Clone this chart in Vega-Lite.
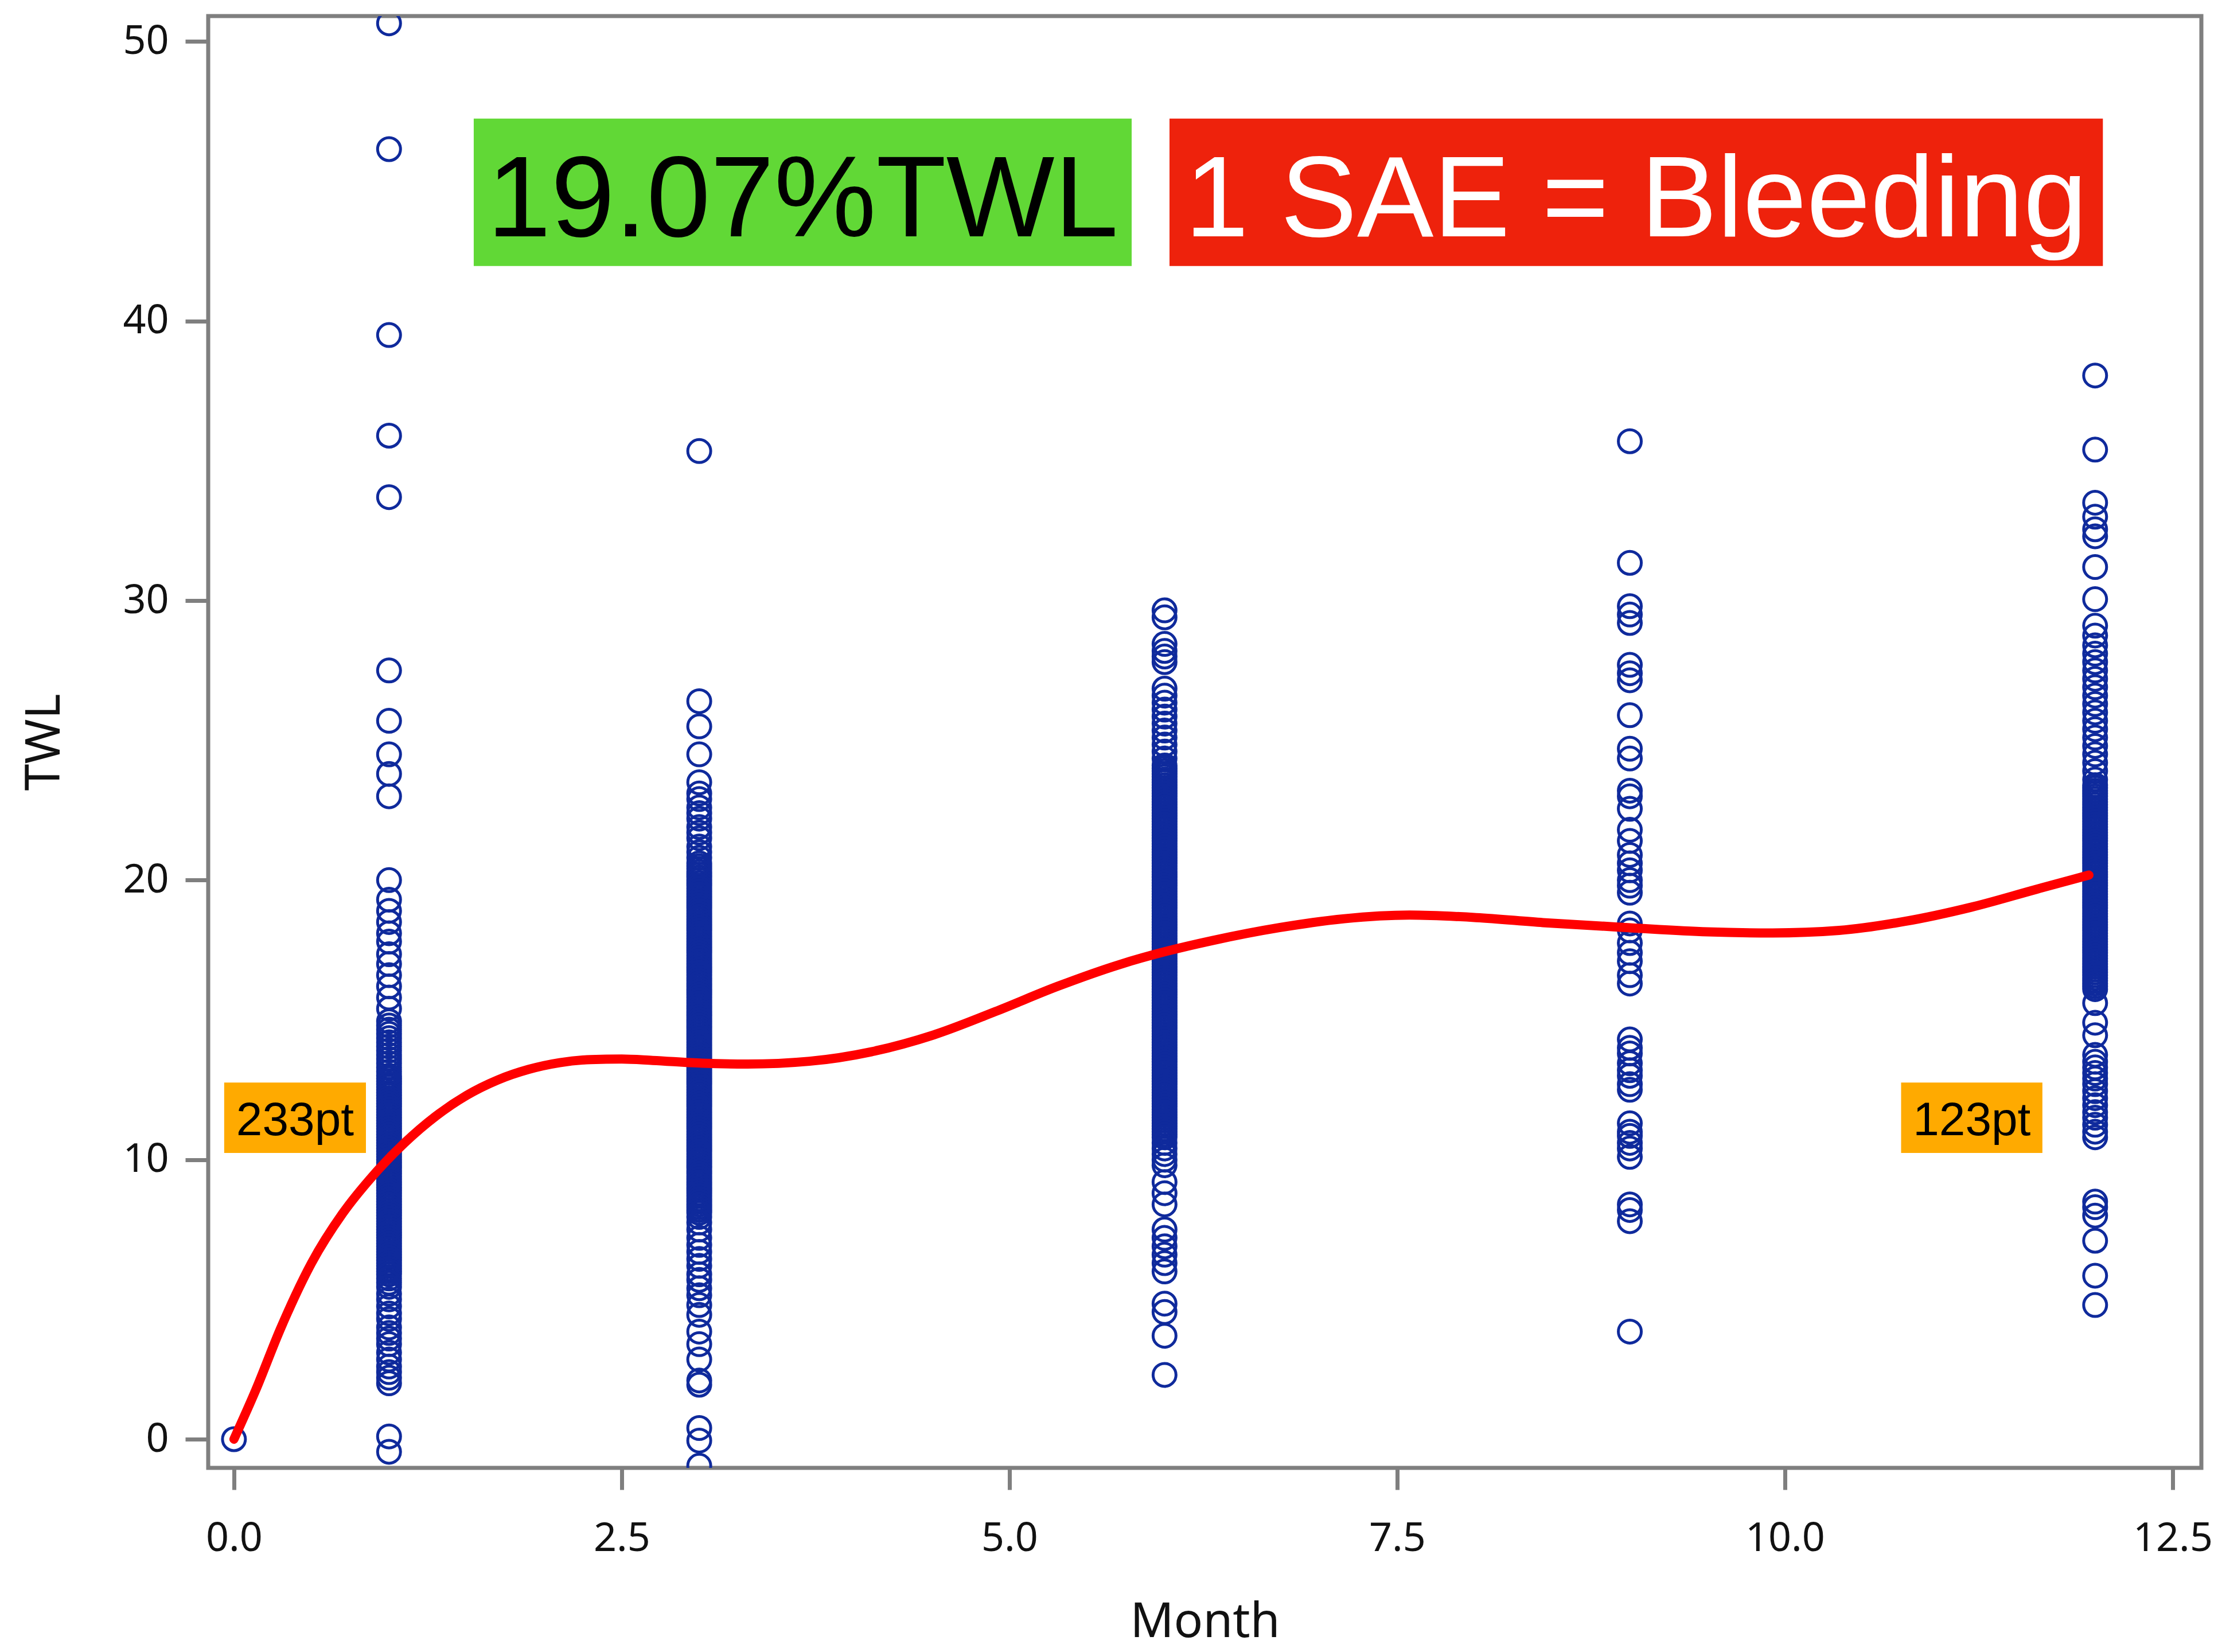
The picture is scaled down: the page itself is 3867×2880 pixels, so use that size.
{
"$schema": "https://vega.github.io/schema/vega-lite/v6.json",
"width": 3475,
"height": 2531,
"autosize": {"type": "none"},
"padding": {"left": 363, "top": 28, "right": 29, "bottom": 321},
"background": "white",
"config": {
  "view": {"stroke": "#7f7f7f", "strokeWidth": 7},
  "axis": {"grid": false, "domain": false, "tickColor": "#7f7f7f", "tickWidth": 7, "labelFont": "Noto Sans", "labelColor": "#111111", "titleFont": "Noto Sans", "titleColor": "#111111", "titleFontWeight": "normal", "labelFlush": false, "labelOverlap": false}
},
"datasets": {
  "pts": [
{"Month":0,"TWL":0},
{"Month":1,"TWL":50.65},{"Month":1,"TWL":46.15},{"Month":1,"TWL":39.5},{"Month":1,"TWL":35.9},{"Month":1,"TWL":33.7},{"Month":1,"TWL":27.5},{"Month":1,"TWL":25.7},{"Month":1,"TWL":24.5},{"Month":1,"TWL":23.8},{"Month":1,"TWL":23.0},{"Month":1,"TWL":20.0},
{"Month":1,"TWL":19.3},{"Month":1,"TWL":18.9},{"Month":1,"TWL":18.5},{"Month":1,"TWL":18.1},{"Month":1,"TWL":17.8},{"Month":1,"TWL":17.35},{"Month":1,"TWL":17.0},{"Month":1,"TWL":16.6},{"Month":1,"TWL":16.2},{"Month":1,"TWL":15.8},{"Month":1,"TWL":15.4},{"Month":1,"TWL":14.95},
{"Month":1,"TWL":14.8},{"Month":1,"TWL":14.65},{"Month":1,"TWL":14.5},{"Month":1,"TWL":14.35},{"Month":1,"TWL":14.2},{"Month":1,"TWL":14.05},{"Month":1,"TWL":13.9},{"Month":1,"TWL":13.75},{"Month":1,"TWL":13.6},{"Month":1,"TWL":13.45},{"Month":1,"TWL":13.3},{"Month":1,"TWL":13.15},
{"Month":1,"TWL":13.0},{"Month":1,"TWL":12.9},{"Month":1,"TWL":12.8},{"Month":1,"TWL":12.7},{"Month":1,"TWL":12.6},{"Month":1,"TWL":12.5},{"Month":1,"TWL":12.4},{"Month":1,"TWL":12.3},{"Month":1,"TWL":12.2},{"Month":1,"TWL":12.1},{"Month":1,"TWL":12.0},{"Month":1,"TWL":11.9},{"Month":1,"TWL":11.8},{"Month":1,"TWL":11.7},{"Month":1,"TWL":11.6},{"Month":1,"TWL":11.5},{"Month":1,"TWL":11.4},{"Month":1,"TWL":11.3},{"Month":1,"TWL":11.2},{"Month":1,"TWL":11.1},{"Month":1,"TWL":11.0},{"Month":1,"TWL":10.9},{"Month":1,"TWL":10.8},{"Month":1,"TWL":10.7},{"Month":1,"TWL":10.6},{"Month":1,"TWL":10.5},{"Month":1,"TWL":10.4},{"Month":1,"TWL":10.3},{"Month":1,"TWL":10.2},{"Month":1,"TWL":10.1},{"Month":1,"TWL":10.0},{"Month":1,"TWL":9.9},{"Month":1,"TWL":9.8},{"Month":1,"TWL":9.7},{"Month":1,"TWL":9.6},{"Month":1,"TWL":9.5},{"Month":1,"TWL":9.4},{"Month":1,"TWL":9.3},{"Month":1,"TWL":9.2},{"Month":1,"TWL":9.1},{"Month":1,"TWL":9.0},{"Month":1,"TWL":8.9},{"Month":1,"TWL":8.8},{"Month":1,"TWL":8.7},{"Month":1,"TWL":8.6},{"Month":1,"TWL":8.5},{"Month":1,"TWL":8.4},{"Month":1,"TWL":8.3},{"Month":1,"TWL":8.2},{"Month":1,"TWL":8.1},{"Month":1,"TWL":8.0},{"Month":1,"TWL":7.9},{"Month":1,"TWL":7.8},{"Month":1,"TWL":7.7},{"Month":1,"TWL":7.6},{"Month":1,"TWL":7.5},{"Month":1,"TWL":7.4},{"Month":1,"TWL":7.3},{"Month":1,"TWL":7.2},{"Month":1,"TWL":7.1},{"Month":1,"TWL":7.0},{"Month":1,"TWL":6.9},{"Month":1,"TWL":6.8},{"Month":1,"TWL":6.7},{"Month":1,"TWL":6.6},{"Month":1,"TWL":6.5},{"Month":1,"TWL":6.4},{"Month":1,"TWL":6.3},{"Month":1,"TWL":6.2},{"Month":1,"TWL":6.1},{"Month":1,"TWL":6.0},{"Month":1,"TWL":5.9},
{"Month":1,"TWL":5.75},{"Month":1,"TWL":5.6},{"Month":1,"TWL":5.45},{"Month":1,"TWL":5.2},{"Month":1,"TWL":5.0},{"Month":1,"TWL":4.75},{"Month":1,"TWL":4.5},{"Month":1,"TWL":4.3},{"Month":1,"TWL":4.0},{"Month":1,"TWL":3.8},{"Month":1,"TWL":3.6},{"Month":1,"TWL":3.4},{"Month":1,"TWL":3.1},{"Month":1,"TWL":2.85},{"Month":1,"TWL":2.6},{"Month":1,"TWL":2.4},{"Month":1,"TWL":2.2},{"Month":1,"TWL":2.0},{"Month":1,"TWL":0.1},{"Month":1,"TWL":-0.45},
{"Month":3,"TWL":35.35},{"Month":3,"TWL":26.4},{"Month":3,"TWL":25.5},{"Month":3,"TWL":24.5},{"Month":3,"TWL":23.5},{"Month":3,"TWL":23.1},{"Month":3,"TWL":22.9},{"Month":3,"TWL":22.6},{"Month":3,"TWL":22.4},{"Month":3,"TWL":22.2},{"Month":3,"TWL":21.9},{"Month":3,"TWL":21.7},{"Month":3,"TWL":21.5},{"Month":3,"TWL":21.2},{"Month":3,"TWL":21.0},{"Month":3,"TWL":20.8},
{"Month":3,"TWL":20.6},{"Month":3,"TWL":20.5},{"Month":3,"TWL":20.4},{"Month":3,"TWL":20.3},{"Month":3,"TWL":20.2},{"Month":3,"TWL":20.1},{"Month":3,"TWL":20.0},{"Month":3,"TWL":19.9},{"Month":3,"TWL":19.8},{"Month":3,"TWL":19.7},{"Month":3,"TWL":19.6},{"Month":3,"TWL":19.5},{"Month":3,"TWL":19.4},{"Month":3,"TWL":19.3},{"Month":3,"TWL":19.2},{"Month":3,"TWL":19.1},{"Month":3,"TWL":19.0},{"Month":3,"TWL":18.9},{"Month":3,"TWL":18.8},{"Month":3,"TWL":18.7},{"Month":3,"TWL":18.6},{"Month":3,"TWL":18.5},{"Month":3,"TWL":18.4},{"Month":3,"TWL":18.3},{"Month":3,"TWL":18.2},{"Month":3,"TWL":18.1},{"Month":3,"TWL":18.0},{"Month":3,"TWL":17.9},{"Month":3,"TWL":17.8},{"Month":3,"TWL":17.7},{"Month":3,"TWL":17.6},{"Month":3,"TWL":17.5},{"Month":3,"TWL":17.4},{"Month":3,"TWL":17.3},{"Month":3,"TWL":17.2},{"Month":3,"TWL":17.1},{"Month":3,"TWL":17.0},{"Month":3,"TWL":16.9},{"Month":3,"TWL":16.8},{"Month":3,"TWL":16.7},{"Month":3,"TWL":16.6},{"Month":3,"TWL":16.5},{"Month":3,"TWL":16.4},{"Month":3,"TWL":16.3},{"Month":3,"TWL":16.2},{"Month":3,"TWL":16.1},{"Month":3,"TWL":16.0},{"Month":3,"TWL":15.9},{"Month":3,"TWL":15.8},{"Month":3,"TWL":15.7},{"Month":3,"TWL":15.6},{"Month":3,"TWL":15.5},{"Month":3,"TWL":15.4},{"Month":3,"TWL":15.3},{"Month":3,"TWL":15.2},{"Month":3,"TWL":15.1},{"Month":3,"TWL":15.0},{"Month":3,"TWL":14.9},{"Month":3,"TWL":14.8},{"Month":3,"TWL":14.7},{"Month":3,"TWL":14.6},{"Month":3,"TWL":14.5},{"Month":3,"TWL":14.4},{"Month":3,"TWL":14.3},{"Month":3,"TWL":14.2},{"Month":3,"TWL":14.1},{"Month":3,"TWL":14.0},{"Month":3,"TWL":13.9},{"Month":3,"TWL":13.8},{"Month":3,"TWL":13.7},{"Month":3,"TWL":13.6},{"Month":3,"TWL":13.5},{"Month":3,"TWL":13.4},{"Month":3,"TWL":13.3},{"Month":3,"TWL":13.2},{"Month":3,"TWL":13.1},{"Month":3,"TWL":13.0},{"Month":3,"TWL":12.9},{"Month":3,"TWL":12.8},{"Month":3,"TWL":12.7},{"Month":3,"TWL":12.6},{"Month":3,"TWL":12.5},{"Month":3,"TWL":12.4},{"Month":3,"TWL":12.3},{"Month":3,"TWL":12.2},{"Month":3,"TWL":12.1},{"Month":3,"TWL":12.0},{"Month":3,"TWL":11.9},{"Month":3,"TWL":11.8},{"Month":3,"TWL":11.7},{"Month":3,"TWL":11.6},{"Month":3,"TWL":11.5},{"Month":3,"TWL":11.4},{"Month":3,"TWL":11.3},{"Month":3,"TWL":11.2},{"Month":3,"TWL":11.1},{"Month":3,"TWL":11.0},{"Month":3,"TWL":10.9},{"Month":3,"TWL":10.8},{"Month":3,"TWL":10.7},{"Month":3,"TWL":10.6},{"Month":3,"TWL":10.5},{"Month":3,"TWL":10.4},{"Month":3,"TWL":10.3},{"Month":3,"TWL":10.2},{"Month":3,"TWL":10.1},{"Month":3,"TWL":10.0},{"Month":3,"TWL":9.9},{"Month":3,"TWL":9.8},{"Month":3,"TWL":9.7},{"Month":3,"TWL":9.6},{"Month":3,"TWL":9.5},{"Month":3,"TWL":9.4},{"Month":3,"TWL":9.3},{"Month":3,"TWL":9.2},{"Month":3,"TWL":9.1},{"Month":3,"TWL":9.0},{"Month":3,"TWL":8.9},{"Month":3,"TWL":8.8},{"Month":3,"TWL":8.7},{"Month":3,"TWL":8.6},{"Month":3,"TWL":8.5},{"Month":3,"TWL":8.4},{"Month":3,"TWL":8.3},{"Month":3,"TWL":8.2},{"Month":3,"TWL":8.1},
{"Month":3,"TWL":7.95},{"Month":3,"TWL":7.75},{"Month":3,"TWL":7.5},{"Month":3,"TWL":7.2},{"Month":3,"TWL":6.95},{"Month":3,"TWL":6.7},{"Month":3,"TWL":6.45},{"Month":3,"TWL":6.2},{"Month":3,"TWL":5.9},{"Month":3,"TWL":5.7},{"Month":3,"TWL":5.4},{"Month":3,"TWL":5.15},{"Month":3,"TWL":4.8},{"Month":3,"TWL":4.45},{"Month":3,"TWL":3.85},{"Month":3,"TWL":3.4},{"Month":3,"TWL":2.85},{"Month":3,"TWL":2.1},{"Month":3,"TWL":1.95},{"Month":3,"TWL":0.4},{"Month":3,"TWL":-0.05},{"Month":3,"TWL":-0.95},
{"Month":6,"TWL":29.65},{"Month":6,"TWL":29.4},{"Month":6,"TWL":28.45},{"Month":6,"TWL":28.2},{"Month":6,"TWL":28.0},{"Month":6,"TWL":27.8},{"Month":6,"TWL":26.85},{"Month":6,"TWL":26.6},{"Month":6,"TWL":26.35},{"Month":6,"TWL":26.1},{"Month":6,"TWL":25.85},{"Month":6,"TWL":25.6},{"Month":6,"TWL":25.35},{"Month":6,"TWL":25.1},{"Month":6,"TWL":24.85},{"Month":6,"TWL":24.6},{"Month":6,"TWL":24.35},
{"Month":6,"TWL":24.1},{"Month":6,"TWL":24.0},{"Month":6,"TWL":23.9},{"Month":6,"TWL":23.8},{"Month":6,"TWL":23.7},{"Month":6,"TWL":23.6},{"Month":6,"TWL":23.5},{"Month":6,"TWL":23.4},{"Month":6,"TWL":23.3},{"Month":6,"TWL":23.2},{"Month":6,"TWL":23.1},{"Month":6,"TWL":23.0},{"Month":6,"TWL":22.9},{"Month":6,"TWL":22.8},{"Month":6,"TWL":22.7},{"Month":6,"TWL":22.6},{"Month":6,"TWL":22.5},{"Month":6,"TWL":22.4},{"Month":6,"TWL":22.3},{"Month":6,"TWL":22.2},{"Month":6,"TWL":22.1},{"Month":6,"TWL":22.0},{"Month":6,"TWL":21.9},{"Month":6,"TWL":21.8},{"Month":6,"TWL":21.7},{"Month":6,"TWL":21.6},{"Month":6,"TWL":21.5},{"Month":6,"TWL":21.4},{"Month":6,"TWL":21.3},{"Month":6,"TWL":21.2},{"Month":6,"TWL":21.1},{"Month":6,"TWL":21.0},{"Month":6,"TWL":20.9},{"Month":6,"TWL":20.8},{"Month":6,"TWL":20.7},{"Month":6,"TWL":20.6},{"Month":6,"TWL":20.5},{"Month":6,"TWL":20.4},{"Month":6,"TWL":20.3},{"Month":6,"TWL":20.2},{"Month":6,"TWL":20.1},{"Month":6,"TWL":20.0},{"Month":6,"TWL":19.9},{"Month":6,"TWL":19.8},{"Month":6,"TWL":19.7},{"Month":6,"TWL":19.6},{"Month":6,"TWL":19.5},{"Month":6,"TWL":19.4},{"Month":6,"TWL":19.3},{"Month":6,"TWL":19.2},{"Month":6,"TWL":19.1},{"Month":6,"TWL":19.0},{"Month":6,"TWL":18.9},{"Month":6,"TWL":18.8},{"Month":6,"TWL":18.7},{"Month":6,"TWL":18.6},{"Month":6,"TWL":18.5},{"Month":6,"TWL":18.4},{"Month":6,"TWL":18.3},{"Month":6,"TWL":18.2},{"Month":6,"TWL":18.1},{"Month":6,"TWL":18.0},{"Month":6,"TWL":17.9},{"Month":6,"TWL":17.8},{"Month":6,"TWL":17.7},{"Month":6,"TWL":17.6},{"Month":6,"TWL":17.5},{"Month":6,"TWL":17.4},{"Month":6,"TWL":17.3},{"Month":6,"TWL":17.2},{"Month":6,"TWL":17.1},{"Month":6,"TWL":17.0},{"Month":6,"TWL":16.9},{"Month":6,"TWL":16.8},{"Month":6,"TWL":16.7},{"Month":6,"TWL":16.6},{"Month":6,"TWL":16.5},{"Month":6,"TWL":16.4},{"Month":6,"TWL":16.3},{"Month":6,"TWL":16.2},{"Month":6,"TWL":16.1},{"Month":6,"TWL":16.0},{"Month":6,"TWL":15.9},{"Month":6,"TWL":15.8},{"Month":6,"TWL":15.7},{"Month":6,"TWL":15.6},{"Month":6,"TWL":15.5},{"Month":6,"TWL":15.4},{"Month":6,"TWL":15.3},{"Month":6,"TWL":15.2},{"Month":6,"TWL":15.1},{"Month":6,"TWL":15.0},{"Month":6,"TWL":14.9},{"Month":6,"TWL":14.8},{"Month":6,"TWL":14.7},{"Month":6,"TWL":14.6},{"Month":6,"TWL":14.5},{"Month":6,"TWL":14.4},{"Month":6,"TWL":14.3},{"Month":6,"TWL":14.2},{"Month":6,"TWL":14.1},{"Month":6,"TWL":14.0},{"Month":6,"TWL":13.9},{"Month":6,"TWL":13.8},{"Month":6,"TWL":13.7},{"Month":6,"TWL":13.6},{"Month":6,"TWL":13.5},{"Month":6,"TWL":13.4},{"Month":6,"TWL":13.3},{"Month":6,"TWL":13.2},{"Month":6,"TWL":13.1},{"Month":6,"TWL":13.0},{"Month":6,"TWL":12.9},{"Month":6,"TWL":12.8},{"Month":6,"TWL":12.7},{"Month":6,"TWL":12.6},{"Month":6,"TWL":12.5},{"Month":6,"TWL":12.4},{"Month":6,"TWL":12.3},{"Month":6,"TWL":12.2},{"Month":6,"TWL":12.1},{"Month":6,"TWL":12.0},{"Month":6,"TWL":11.9},{"Month":6,"TWL":11.8},{"Month":6,"TWL":11.7},{"Month":6,"TWL":11.6},{"Month":6,"TWL":11.5},{"Month":6,"TWL":11.4},{"Month":6,"TWL":11.3},{"Month":6,"TWL":11.2},{"Month":6,"TWL":11.1},{"Month":6,"TWL":11.0},{"Month":6,"TWL":10.9},{"Month":6,"TWL":10.8},
{"Month":6,"TWL":10.6},{"Month":6,"TWL":10.4},{"Month":6,"TWL":10.2},{"Month":6,"TWL":10.0},{"Month":6,"TWL":9.8},{"Month":6,"TWL":9.2},{"Month":6,"TWL":8.8},{"Month":6,"TWL":8.4},{"Month":6,"TWL":7.5},{"Month":6,"TWL":7.2},{"Month":6,"TWL":6.9},{"Month":6,"TWL":6.6},{"Month":6,"TWL":6.3},{"Month":6,"TWL":6.0},{"Month":6,"TWL":4.85},{"Month":6,"TWL":4.55},{"Month":6,"TWL":3.7},{"Month":6,"TWL":2.3},
{"Month":9,"TWL":35.7},{"Month":9,"TWL":31.35},{"Month":9,"TWL":29.8},{"Month":9,"TWL":29.5},{"Month":9,"TWL":29.2},{"Month":9,"TWL":27.7},{"Month":9,"TWL":27.4},{"Month":9,"TWL":27.15},{"Month":9,"TWL":25.9},{"Month":9,"TWL":24.7},{"Month":9,"TWL":24.35},{"Month":9,"TWL":23.2},{"Month":9,"TWL":23.0},{"Month":9,"TWL":22.55},{"Month":9,"TWL":21.8},{"Month":9,"TWL":21.4},{"Month":9,"TWL":20.9},{"Month":9,"TWL":20.6},{"Month":9,"TWL":20.35},{"Month":9,"TWL":20.0},{"Month":9,"TWL":19.8},{"Month":9,"TWL":19.55},{"Month":9,"TWL":18.45},{"Month":9,"TWL":18.2},{"Month":9,"TWL":17.75},{"Month":9,"TWL":17.4},{"Month":9,"TWL":17.1},{"Month":9,"TWL":16.6},{"Month":9,"TWL":16.3},{"Month":9,"TWL":14.3},{"Month":9,"TWL":14.0},{"Month":9,"TWL":13.8},{"Month":9,"TWL":13.45},{"Month":9,"TWL":13.2},{"Month":9,"TWL":13.0},{"Month":9,"TWL":12.7},{"Month":9,"TWL":12.5},{"Month":9,"TWL":11.3},{"Month":9,"TWL":11.0},{"Month":9,"TWL":10.85},{"Month":9,"TWL":10.6},{"Month":9,"TWL":10.4},{"Month":9,"TWL":10.1},{"Month":9,"TWL":8.4},{"Month":9,"TWL":8.2},{"Month":9,"TWL":7.8},{"Month":9,"TWL":3.85},
{"Month":12,"TWL":38.05},{"Month":12,"TWL":35.4},{"Month":12,"TWL":33.5},{"Month":12,"TWL":33.0},{"Month":12,"TWL":32.55},{"Month":12,"TWL":32.3},{"Month":12,"TWL":31.2},{"Month":12,"TWL":30.05},{"Month":12,"TWL":29.1},{"Month":12,"TWL":28.75},{"Month":12,"TWL":28.4},{"Month":12,"TWL":28.1},{"Month":12,"TWL":27.8},{"Month":12,"TWL":27.5},{"Month":12,"TWL":27.2},{"Month":12,"TWL":26.9},{"Month":12,"TWL":26.6},{"Month":12,"TWL":26.3},{"Month":12,"TWL":26.0},{"Month":12,"TWL":25.7},{"Month":12,"TWL":25.4},{"Month":12,"TWL":25.1},{"Month":12,"TWL":24.8},{"Month":12,"TWL":24.5},{"Month":12,"TWL":24.2},{"Month":12,"TWL":23.9},{"Month":12,"TWL":23.6},
{"Month":12,"TWL":23.4},{"Month":12,"TWL":23.3},{"Month":12,"TWL":23.2},{"Month":12,"TWL":23.1},{"Month":12,"TWL":23.0},{"Month":12,"TWL":22.9},{"Month":12,"TWL":22.8},{"Month":12,"TWL":22.7},{"Month":12,"TWL":22.6},{"Month":12,"TWL":22.5},{"Month":12,"TWL":22.4},{"Month":12,"TWL":22.3},{"Month":12,"TWL":22.2},{"Month":12,"TWL":22.1},{"Month":12,"TWL":22.0},{"Month":12,"TWL":21.9},{"Month":12,"TWL":21.8},{"Month":12,"TWL":21.7},{"Month":12,"TWL":21.6},{"Month":12,"TWL":21.5},{"Month":12,"TWL":21.4},{"Month":12,"TWL":21.3},{"Month":12,"TWL":21.2},{"Month":12,"TWL":21.1},{"Month":12,"TWL":21.0},{"Month":12,"TWL":20.9},{"Month":12,"TWL":20.8},{"Month":12,"TWL":20.7},{"Month":12,"TWL":20.6},{"Month":12,"TWL":20.5},{"Month":12,"TWL":20.4},{"Month":12,"TWL":20.3},{"Month":12,"TWL":20.2},{"Month":12,"TWL":20.1},{"Month":12,"TWL":20.0},{"Month":12,"TWL":19.9},{"Month":12,"TWL":19.8},{"Month":12,"TWL":19.7},{"Month":12,"TWL":19.6},{"Month":12,"TWL":19.5},{"Month":12,"TWL":19.4},{"Month":12,"TWL":19.3},{"Month":12,"TWL":19.2},{"Month":12,"TWL":19.1},{"Month":12,"TWL":19.0},{"Month":12,"TWL":18.9},{"Month":12,"TWL":18.8},{"Month":12,"TWL":18.7},{"Month":12,"TWL":18.6},{"Month":12,"TWL":18.5},{"Month":12,"TWL":18.4},{"Month":12,"TWL":18.3},{"Month":12,"TWL":18.2},{"Month":12,"TWL":18.1},{"Month":12,"TWL":18.0},{"Month":12,"TWL":17.9},{"Month":12,"TWL":17.8},{"Month":12,"TWL":17.7},{"Month":12,"TWL":17.6},{"Month":12,"TWL":17.5},{"Month":12,"TWL":17.4},{"Month":12,"TWL":17.3},{"Month":12,"TWL":17.2},{"Month":12,"TWL":17.1},{"Month":12,"TWL":17.0},{"Month":12,"TWL":16.9},{"Month":12,"TWL":16.8},{"Month":12,"TWL":16.7},{"Month":12,"TWL":16.6},{"Month":12,"TWL":16.5},{"Month":12,"TWL":16.4},{"Month":12,"TWL":16.3},{"Month":12,"TWL":16.2},{"Month":12,"TWL":16.1},
{"Month":12,"TWL":15.6},{"Month":12,"TWL":14.9},{"Month":12,"TWL":14.45},{"Month":12,"TWL":13.75},{"Month":12,"TWL":13.5},{"Month":12,"TWL":13.3},{"Month":12,"TWL":13.1},{"Month":12,"TWL":12.9},{"Month":12,"TWL":12.7},{"Month":12,"TWL":12.45},{"Month":12,"TWL":12.2},{"Month":12,"TWL":11.95},{"Month":12,"TWL":11.7},{"Month":12,"TWL":11.5},{"Month":12,"TWL":11.25},{"Month":12,"TWL":11.0},{"Month":12,"TWL":10.8},{"Month":12,"TWL":8.5},{"Month":12,"TWL":8.3},{"Month":12,"TWL":8.0},{"Month":12,"TWL":7.1},{"Month":12,"TWL":5.85},{"Month":12,"TWL":4.8}
  ],
  "fit": [
{"Month":0,"TWL":0},{"Month":0.14,"TWL":1.75},{"Month":0.3,"TWL":3.95},{"Month":0.5,"TWL":6.3},{"Month":0.7,"TWL":8.07},{"Month":0.9,"TWL":9.45},{"Month":1.1,"TWL":10.6},{"Month":1.3,"TWL":11.55},{"Month":1.5,"TWL":12.3},{"Month":1.7,"TWL":12.85},{"Month":1.9,"TWL":13.23},{"Month":2.1,"TWL":13.47},{"Month":2.3,"TWL":13.58},{"Month":2.5,"TWL":13.6},{"Month":2.7,"TWL":13.55},{"Month":3.02,"TWL":13.45},{"Month":3.31,"TWL":13.42},{"Month":3.71,"TWL":13.52},{"Month":4.11,"TWL":13.86},{"Month":4.51,"TWL":14.46},{"Month":4.91,"TWL":15.3},{"Month":5.31,"TWL":16.2},{"Month":5.71,"TWL":16.98},{"Month":6.01,"TWL":17.45},{"Month":6.31,"TWL":17.84},{"Month":6.74,"TWL":18.3},{"Month":7.16,"TWL":18.62},{"Month":7.58,"TWL":18.75},{"Month":8.01,"TWL":18.66},{"Month":8.44,"TWL":18.48},{"Month":8.99,"TWL":18.3},{"Month":9.5,"TWL":18.15},{"Month":9.92,"TWL":18.11},{"Month":10.35,"TWL":18.2},{"Month":10.77,"TWL":18.52},{"Month":11.2,"TWL":19.03},{"Month":11.62,"TWL":19.67},{"Month":11.96,"TWL":20.18}
  ],
  "notes": [
{"label":"19.07%TWL","left":1.546,"right":5.788,"low":41.97,"high":47.24,"center":3.667,"base":43.03,"kind":"big"},
{"label":"1 SAE = Bleeding","left":6.032,"right":12.05,"low":41.97,"high":47.24,"center":9.04,"base":43.03,"kind":"big"},
{"label":"233pt","left":-0.063,"right":0.851,"low":10.24,"high":12.76,"center":0.394,"base":10.88,"kind":"small"},
{"label":"123pt","left":10.749,"right":11.66,"low":10.24,"high":12.76,"center":11.205,"base":10.88,"kind":"small"}
  ]
},
"layer": [
  {
    "data": {"name": "pts"},
    "mark": {"type": "point", "shape": "circle", "filled": false, "size": 1600, "strokeWidth": 5, "color": "#0f2a9c", "opacity": 1, "clip": true},
    "encoding": {
      "x": {"field": "Month", "type": "quantitative", "scale": {"domain": [-0.166, 12.685], "nice": false, "zero": false},
        "axis": {"values": [0, 2.5, 5, 7.5, 10, 12.5], "format": ".1f", "labelFontSize": 70, "tickSize": 38, "labelPadding": 51, "title": "Month", "titleFontSize": 84, "titlePadding": 70}},
      "y": {"field": "TWL", "type": "quantitative", "scale": {"domain": [-1.026, 50.91], "nice": false, "zero": false},
        "axis": {"values": [0, 10, 20, 30, 40, 50], "labelFontSize": 70, "tickSize": 40, "labelPadding": 29, "title": "TWL", "titleFontSize": 84, "titlePadding": 92}}
    }
  },
  {
    "data": {"name": "fit"},
    "mark": {"type": "line", "color": "#ff0000", "strokeWidth": 16, "interpolate": "monotone", "strokeCap": "round", "clip": true},
    "encoding": {
      "x": {"field": "Month", "type": "quantitative"},
      "y": {"field": "TWL", "type": "quantitative"}
    }
  },
  {
    "data": {"name": "notes"},
    "mark": {"type": "rect"},
    "encoding": {
      "x": {"field": "left", "type": "quantitative"},
      "x2": {"field": "right"},
      "y": {"field": "low", "type": "quantitative"},
      "y2": {"field": "high"},
      "fill": {"field": "label", "type": "nominal", "legend": null,
        "scale": {"domain": ["19.07%TWL", "1 SAE = Bleeding", "233pt", "123pt"], "range": ["#61d836", "#ee220c", "#ffaa00", "#ffaa00"]}}
    }
  },
  {
    "data": {"name": "notes"},
    "transform": [{"filter": "datum.kind === 'big'"}],
    "mark": {"type": "text", "font": "Liberation Sans", "fontSize": 200, "align": "center", "baseline": "alphabetic"},
    "encoding": {
      "x": {"field": "center", "type": "quantitative"},
      "y": {"field": "base", "type": "quantitative"},
      "text": {"field": "label"},
      "color": {"field": "label", "type": "nominal", "legend": null,
        "scale": {"domain": ["19.07%TWL", "1 SAE = Bleeding"], "range": ["#000000", "#ffffff"]}}
    }
  },
  {
    "data": {"name": "notes"},
    "transform": [{"filter": "datum.kind === 'small'"}],
    "mark": {"type": "text", "font": "Liberation Sans", "fontSize": 82, "align": "center", "baseline": "alphabetic", "color": "#000000"},
    "encoding": {
      "x": {"field": "center", "type": "quantitative"},
      "y": {"field": "base", "type": "quantitative"},
      "text": {"field": "label"}
    }
  }
],
"resolve": {"scale": {"color": "independent", "fill": "independent"}}
}
